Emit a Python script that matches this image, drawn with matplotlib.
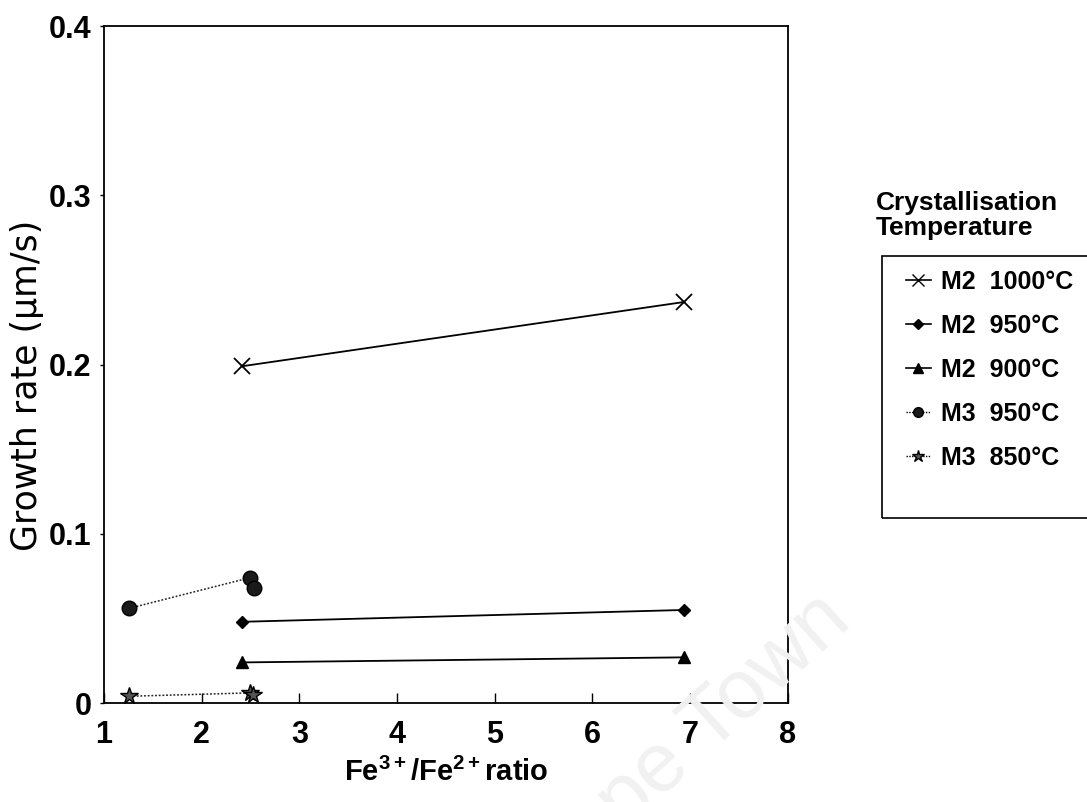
import matplotlib
matplotlib.use("Agg")
import matplotlib.pyplot as plt
from matplotlib.patches import Rectangle
from matplotlib.lines import Line2D

PLAIN = "Liberation Sans"
WIDE = "DejaVu Sans"

plt.rcParams['font.family'] = [PLAIN, 'DejaVu Sans']
plt.rcParams['mathtext.fontset'] = 'custom'
plt.rcParams['mathtext.rm'] = f'{PLAIN}:bold'
plt.rcParams['mathtext.bf'] = f'{PLAIN}:bold'
plt.rcParams['mathtext.default'] = 'bf'

# Growth rate vs Fe3+/Fe2+ ratio for each melt / crystallisation temperature
m2_1000_x = [2.41, 6.94]
m2_1000_y = [0.199, 0.237]

m2_950_x = [2.41, 6.94]
m2_950_y = [0.048, 0.055]

m2_900_x = [2.41, 6.94]
m2_900_y = [0.024, 0.027]

m3_950_x = [1.26, 2.49, 2.54]
m3_950_y = [0.056, 0.074, 0.068]

m3_850_x = [1.26, 2.49, 2.53]
m3_850_y = [0.004, 0.006, 0.005]

series_labels = ["M2  1000°C", "M2  950°C", "M2  900°C", "M3  950°C", "M3  850°C"]
x_ticks = [1, 2, 3, 4, 5, 6, 7, 8]
y_ticks = [0, 0.1, 0.2, 0.3, 0.4]
y_tick_labels = ["0", "0.1", "0.2", "0.3", "0.4"]

fig = plt.figure(figsize=(10.87, 8.02), dpi=100)
ax = fig.add_axes([0.0957, 0.1234, 0.629, 0.844])
ax.set_facecolor('none')

# faint background watermark
fig.text(0.785, 0.222, "Cape Town", rotation=42, rotation_mode='anchor',
         fontsize=60, color='#f1f1f1', ha='right', va='baseline', zorder=0,
         family=PLAIN)

lw = 1.3
ax.plot(m2_1000_x, m2_1000_y, color='black', lw=lw, marker='x', ms=11, mew=1.3)
ax.plot(m2_950_x, m2_950_y, color='black', lw=lw, marker='D', ms=6.5)
ax.plot(m2_900_x, m2_900_y, color='black', lw=lw, marker='^', ms=9)
ax.plot(m3_950_x, m3_950_y, color='#222222', lw=1.1, ls=(0, (1.2, 1.2)),
        marker='o', ms=10.5, markerfacecolor='#1a1a1a', markeredgecolor='black')
ax.plot(m3_850_x, m3_850_y, color='#222222', lw=1.1, ls=(0, (1.2, 1.2)),
        marker='*', ms=13, markerfacecolor='#555555', markeredgecolor='black', mew=1.0)

ax.set_xlim(1, 8)
ax.set_ylim(0, 0.4)
ax.set_xticks(x_ticks)
ax.set_yticks(y_ticks)
ax.set_yticklabels(y_tick_labels)
ax.tick_params(axis='x', direction='in', length=7, width=1.0, pad=12)
ax.tick_params(axis='y', direction='out', length=3, width=1.0, pad=6)
for lab in ax.get_xticklabels() + ax.get_yticklabels():
    lab.set_fontweight('bold')
    lab.set_fontsize(22)
for s in ax.spines.values():
    s.set_linewidth(1.3)

ax.set_xlabel("Fe$^{3+}$/Fe$^{2+}$ratio", fontsize=21, fontweight='bold', labelpad=6)
ax.set_ylabel("Growth rate (µm/s)", fontsize=25, family=WIDE)
ax.yaxis.set_label_coords(-0.088, 0.47)

# legend with its own frame running off the right edge
fig.text(0.806, 0.762, "Crystallisation\nTemperature", fontsize=19, fontweight='bold',
         ha='left', va='top', linespacing=1.05)
fig.patches.append(Rectangle((0.811, 0.354), 0.25, 0.327, transform=fig.transFigure,
                             fill=False, edgecolor='black', lw=1.2))
handles = [
    Line2D([], [], color='black', lw=1.2, marker='x', ms=8),
    Line2D([], [], color='black', lw=1.2, marker='D', ms=5),
    Line2D([], [], color='black', lw=1.2, marker='^', ms=7),
    Line2D([], [], color='black', lw=1.0, ls=(0, (1, 1)), marker='o', ms=7, markerfacecolor='#1a1a1a'),
    Line2D([], [], color='black', lw=1.0, ls=(0, (1, 1)), marker='*', ms=9, markerfacecolor='#555555'),
]
leg = fig.legend(handles, series_labels, loc='upper left', bbox_to_anchor=(0.824, 0.676),
                 frameon=False, prop={'family': PLAIN, 'weight': 'bold', 'size': 18},
                 handlelength=1.0, handletextpad=0.4, labelspacing=0.8, borderaxespad=0)

fig.savefig("out.png", dpi=100)
